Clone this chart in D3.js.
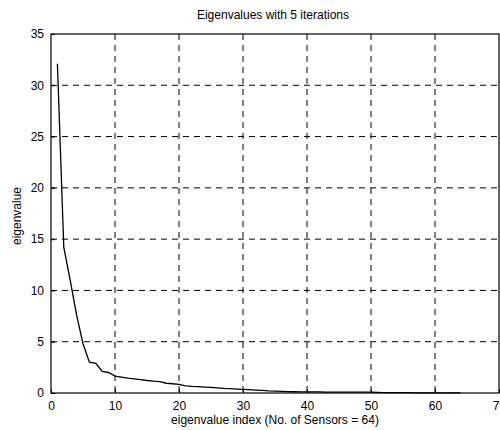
<!DOCTYPE html>
<meta charset="utf-8">
<html>
<head>
<script src="https://d3js.org/d3.v7.min.js"></script>
<style>
  body { margin: 0; background: #fff; }
  text { font-family: Arial, "Liberation Sans", sans-serif; fill: #000; }
</style>
</head>
<body>
<svg id="chart" width="500" height="430"></svg>
<script>
// eigenvalue index 1..64 and the values
var eigIndex = d3.range(1, 65);
var eigValues = [
  32.1, 14.2, 11.0, 7.6, 4.8, 3.0, 2.9, 2.1, 2.0, 1.65,
  1.55, 1.45, 1.38, 1.3, 1.22, 1.15, 1.1, 0.95, 0.9, 0.85,
  0.7, 0.65, 0.62, 0.58, 0.55, 0.5, 0.45, 0.42, 0.38, 0.35,
  0.32, 0.28, 0.25, 0.2, 0.18, 0.16, 0.14, 0.12, 0.11, 0.1,
  0.1, 0.1, 0.09, 0.09, 0.09, 0.09, 0.08, 0.08, 0.08, 0.08,
  0.07, 0.04, 0.03, 0.03, 0.03, 0.03, 0.02, 0.02, 0.02, 0.02,
  0.02, 0.01, 0.01, 0.01
];
var xTicks = [0, 10, 20, 30, 40, 50, 60, 70];
var yTicks = [0, 5, 10, 15, 20, 25, 30, 35];

var titleText = "Eigenvalues with 5 iterations";
var xLabel = "eigenvalue index (No. of Sensors = 64)";
var yLabel = "eigenvalue";

var svg = d3.select("#chart");
var plotL = 51, plotR = 499, plotT = 34, plotB = 393;

var x = d3.scaleLinear().domain([0, 70]).range([plotL, plotR]);
var y = d3.scaleLinear().domain([0, 35]).range([plotB, plotT]);

// dashed grid
var grid = svg.append("g");
grid.selectAll("line.vx").data(xTicks.slice(1, -1)).enter().append("line")
    .attr("x1", d => x(d)).attr("x2", d => x(d))
    .attr("y1", plotT).attr("y2", plotB)
    .attr("stroke", "#000").attr("stroke-width", 1).attr("stroke-dasharray", "6,5");
grid.selectAll("line.hy").data(yTicks.slice(1, -1)).enter().append("line")
    .attr("x1", plotL).attr("x2", plotR)
    .attr("y1", d => y(d)).attr("y2", d => y(d))
    .attr("stroke", "#000").attr("stroke-width", 1).attr("stroke-dasharray", "6,5");

// axes with inside ticks
var xAxis = svg.append("g").attr("transform", "translate(0," + plotB + ")")
    .call(d3.axisBottom(x).tickValues(xTicks).tickSizeInner(-4).tickSizeOuter(0).tickPadding(8));
var yAxis = svg.append("g").attr("transform", "translate(" + plotL + ",0)")
    .call(d3.axisLeft(y).tickValues(yTicks).tickSizeInner(-4).tickSizeOuter(0).tickPadding(7));
[xAxis, yAxis].forEach(function (g) {
  g.select(".domain").remove();
  g.selectAll("line").attr("stroke", "#000");
  g.selectAll("text").style("font-size", "12px").style("font-family", "Arial, 'Liberation Sans', sans-serif");
});

// frame
svg.append("rect").attr("x", plotL).attr("y", plotT)
    .attr("width", plotR - plotL).attr("height", plotB - plotT)
    .attr("fill", "none").attr("stroke", "#000").attr("stroke-width", 1.2);

// curve
var line = d3.line().x((d, i) => x(eigIndex[i])).y(d => y(d));
svg.append("path").datum(eigValues)
    .attr("d", line).attr("fill", "none")
    .attr("stroke", "#000").attr("stroke-width", 1.3);

// texts
svg.append("text").attr("x", 273).attr("y", 19).attr("text-anchor", "middle")
    .style("font-size", "12px").text(titleText);
svg.append("text").attr("x", 275).attr("y", 424).attr("text-anchor", "middle")
    .style("font-size", "12px").text(xLabel);
svg.append("text").attr("transform", "translate(21,216) rotate(-90)")
    .attr("text-anchor", "middle").style("font-size", "12px").text(yLabel);
</script>
</body>
</html>
